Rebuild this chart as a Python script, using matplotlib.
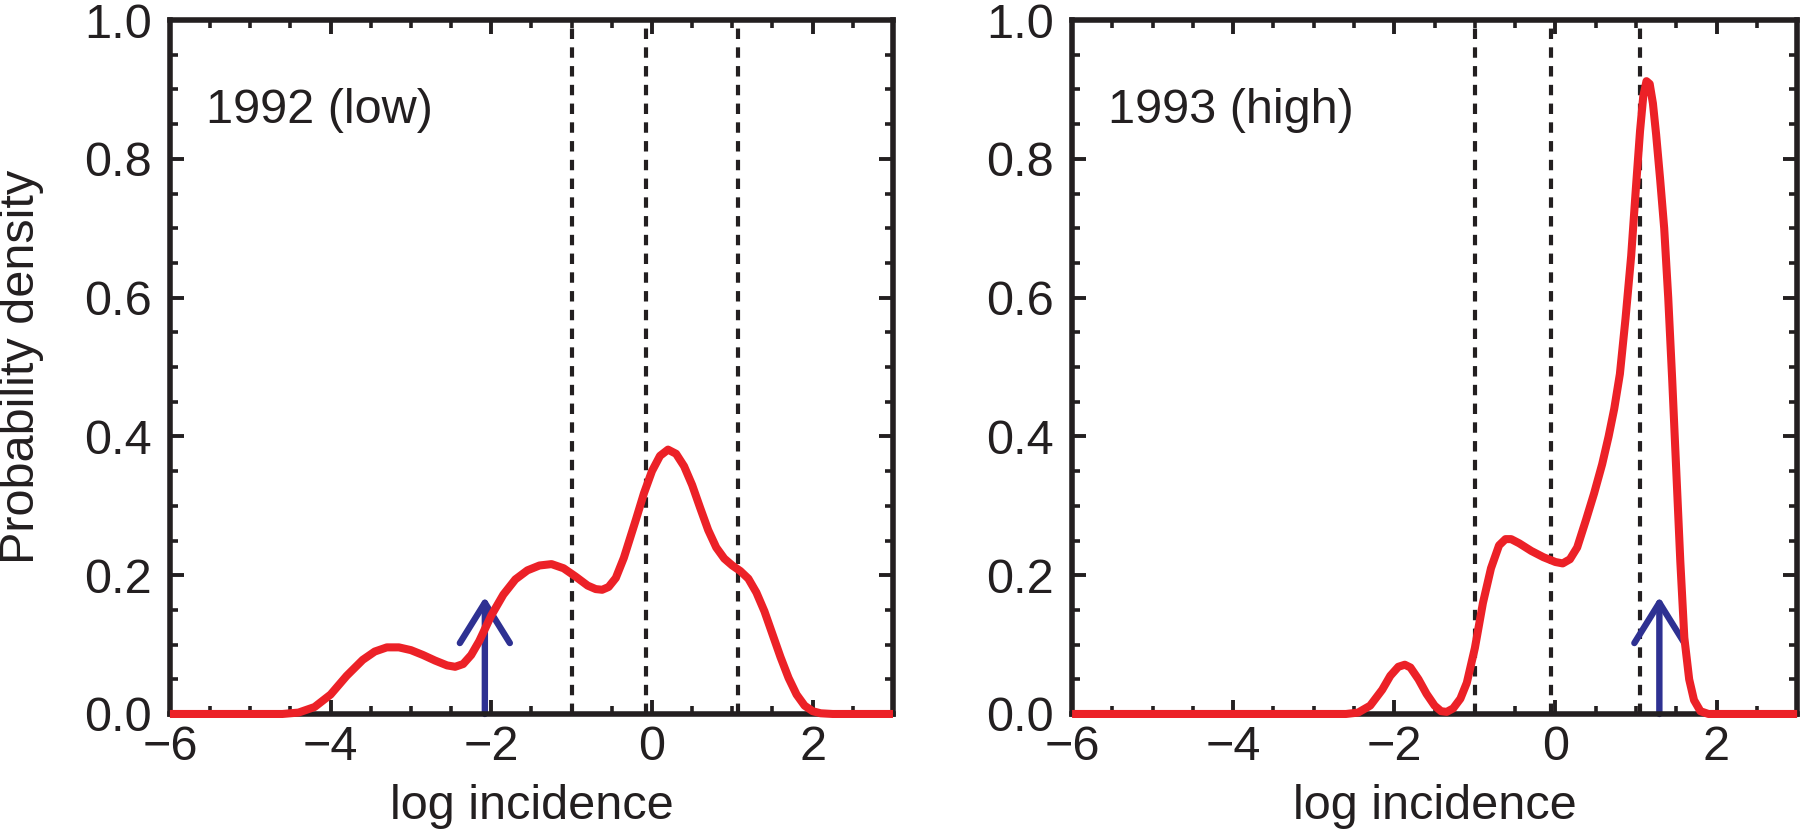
import matplotlib
matplotlib.use("Agg")
import matplotlib.pyplot as plt
from matplotlib.ticker import MultipleLocator

plt.rcParams['font.family'] = ['Liberation Sans', 'DejaVu Sans']
plt.rcParams['lines.scale_dashes'] = False

ROT = '#EC2127'
BLAU = '#2E3192'

x_1992 = [-6.0, -4.6, -4.4, -4.2, -4.0, -3.8, -3.6, -3.45, -3.3, -3.15, -3.0, -2.85,
          -2.7, -2.55, -2.45, -2.35, -2.25, -2.15, -2.0, -1.85, -1.7, -1.55, -1.4,
          -1.25, -1.1, -0.95, -0.8, -0.7, -0.62, -0.54, -0.45, -0.35, -0.2, -0.1,
          0.0, 0.1, 0.2, 0.3, 0.4, 0.5, 0.6, 0.7, 0.8, 0.9, 1.0, 1.1, 1.2, 1.3,
          1.4, 1.5, 1.6, 1.7, 1.8, 1.9, 2.0, 2.1, 2.25, 3.0]
y_1992 = [0.0, 0.0, 0.002, 0.01, 0.028, 0.055, 0.078, 0.09, 0.096, 0.096, 0.092, 0.085,
          0.077, 0.07, 0.068, 0.072, 0.085, 0.105, 0.142, 0.172, 0.194, 0.207, 0.214,
          0.216, 0.21, 0.198, 0.185, 0.18, 0.179, 0.183, 0.196, 0.225, 0.28, 0.318,
          0.35, 0.372, 0.381, 0.375, 0.357, 0.33, 0.297, 0.265, 0.24, 0.224, 0.214, 0.206,
          0.195, 0.175, 0.148, 0.115, 0.082, 0.052, 0.028, 0.012, 0.004, 0.001, 0.0, 0.0]

# 1993 (high)
x_1993 = [-6.0, -2.6, -2.45, -2.3, -2.15, -2.05, -1.95, -1.87, -1.8, -1.7, -1.6,
          -1.5, -1.42, -1.35, -1.27, -1.18, -1.1, -1.0, -0.9, -0.8, -0.7, -0.62,
          -0.55, -0.45, -0.3, -0.15, 0.0, 0.09, 0.18, 0.27, 0.38, 0.48, 0.58, 0.66,
          0.73, 0.8, 0.87, 0.94, 1.0, 1.05, 1.09, 1.13, 1.17, 1.21, 1.25, 1.3, 1.35,
          1.4, 1.45, 1.5, 1.55, 1.6, 1.66, 1.72, 1.8, 1.9, 3.0]
y_1993 = [0.0, 0.0, 0.002, 0.012, 0.035, 0.055, 0.068, 0.071, 0.067, 0.05, 0.029,
          0.012, 0.004, 0.003, 0.008, 0.022, 0.045, 0.095, 0.16, 0.21, 0.243, 0.252,
          0.252, 0.246, 0.235, 0.226, 0.219, 0.217, 0.223, 0.24, 0.28, 0.318, 0.36, 0.4,
          0.44, 0.49, 0.57, 0.66, 0.76, 0.84, 0.89, 0.912, 0.908, 0.88, 0.835, 0.77, 0.7,
          0.6, 0.48, 0.35, 0.22, 0.11, 0.05, 0.02, 0.004, 0.0, 0.0]

# Schwellen (gestrichelt) und Pfeil-Positionen
schwellen_1992 = [-1.0, -0.08, 1.07]
schwellen_1993 = [-1.0, -0.05, 1.05]
pfeil_1992 = -2.08
pfeil_1993 = 1.29
pfeil_hoehe = 0.169

titel = ['1992 (low)', '1993 (high)']

fig = plt.figure(figsize=(18, 8.38), dpi=100)
ax1 = fig.add_axes([0.0944, 0.148, 0.4017, 0.828])
ax2 = fig.add_axes([0.5956, 0.148, 0.4028, 0.828])

daten = [(ax1, x_1992, y_1992, schwellen_1992, pfeil_1992, titel[0]),
         (ax2, x_1993, y_1993, schwellen_1993, pfeil_1993, titel[1])]

for ax, xs, ys, schwellen, pfeil, t in daten:
    for s in schwellen:
        ax.axvline(s, color='#231F20', lw=3.0, dashes=(7.5, 6.0), zorder=1)
    ax.annotate('', xy=(pfeil, pfeil_hoehe), xytext=(pfeil, 0),
                arrowprops=dict(arrowstyle='->,head_length=29,head_width=18',
                                mutation_scale=1, lw=4.6, color=BLAU,
                                shrinkA=0, shrinkB=0),
                zorder=2)
    ax.plot(xs, ys, color=ROT, lw=5.8, zorder=4, clip_on=False,
            solid_capstyle='butt', solid_joinstyle='round')

    ax.set_xlim(-6, 3)
    ax.set_ylim(0, 1.0)
    ax.xaxis.set_major_locator(MultipleLocator(2))
    ax.xaxis.set_minor_locator(MultipleLocator(0.5))
    ax.yaxis.set_major_locator(MultipleLocator(0.2))
    ax.yaxis.set_minor_locator(MultipleLocator(0.05))
    ax.yaxis.set_major_formatter(plt.FormatStrFormatter('%.1f'))
    ax.tick_params(which='both', direction='in', top=True, right=True,
                   labelsize=35, colors='#231F20')
    ax.tick_params(which='major', length=10, width=2.8)
    ax.tick_params(which='minor', length=5.5, width=2.6)
    ax.tick_params(axis='x', pad=8)
    ax.tick_params(axis='y', pad=13)
    for sp in ax.spines.values():
        sp.set_linewidth(4)
        sp.set_color('#231F20')
    ax.set_xlabel('log incidence', fontsize=35, labelpad=10, color='#231F20')
    ax.text(-5.55, 0.852, t, fontsize=35, color='#231F20', va='baseline', ha='left')

ax1.set_ylabel('Probability density', fontsize=35, labelpad=29, color='#231F20')

fig.savefig('out.png', dpi=100)
